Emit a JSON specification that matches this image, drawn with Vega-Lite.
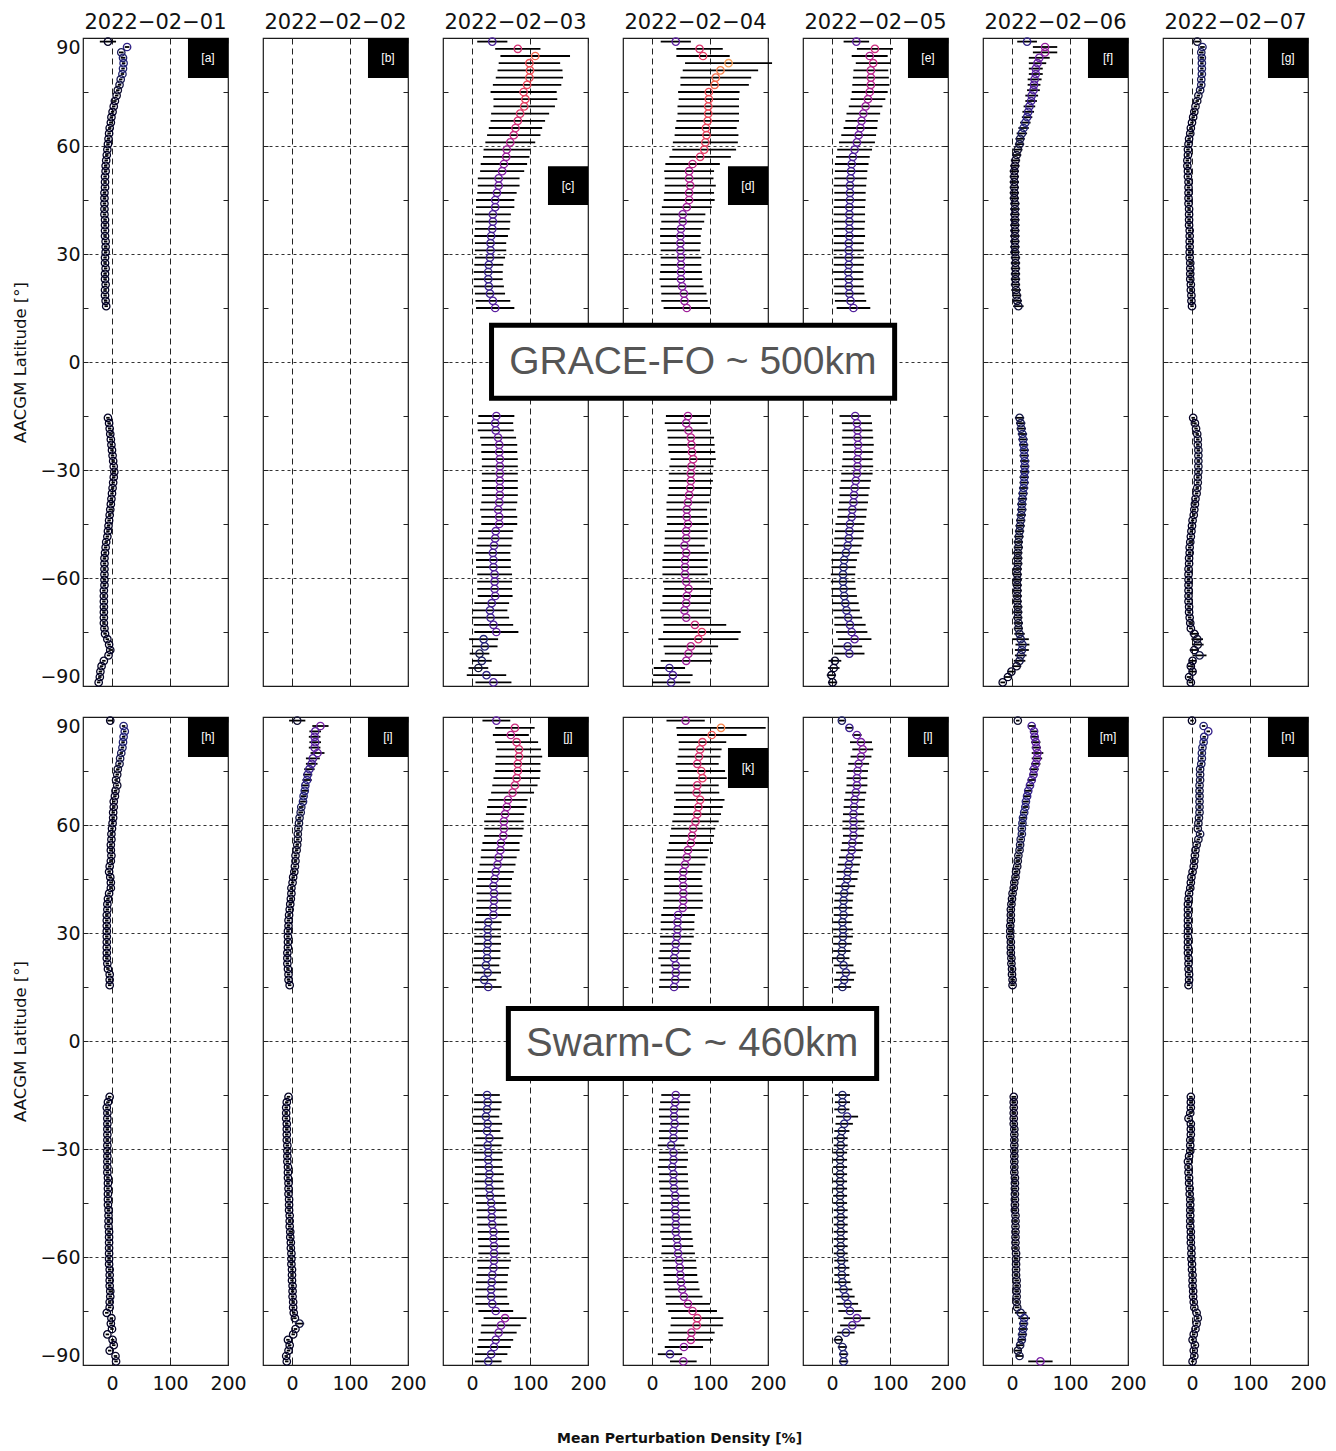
{
"$schema": "https://vega.github.io/schema/vega-lite/v6.json",
"background": "white",
"padding": {"left": 12, "top": 10, "right": 10, "bottom": 8},
"config": {
  "view": {"stroke": "#1a1a1a", "strokeWidth": 1.2},
  "axis": {"domain": false, "tickSize": -5, "tickColor": "#222", "tickWidth": 1, "labelFont": "DejaVu Sans", "labelFontSize": 19, "labelColor": "#111", "titleFont": "DejaVu Sans", "titleColor": "#111"},
  "title": {"font": "DejaVu Sans", "fontSize": 21, "fontWeight": "normal", "color": "#111", "offset": 2, "frame": "group"}
},
"datasets": {
"a": [{"y":89,"v":-7,"e":14},{"y":87.5,"v":26,"e":4},{"y":86,"v":16,"e":4},{"y":84.5,"v":19,"e":4},{"y":83,"v":20,"e":3},{"y":81.5,"v":19,"e":3},{"y":80,"v":18,"e":3},{"y":78.5,"v":15,"e":3},{"y":77,"v":13,"e":3},{"y":75.5,"v":10,"e":3},{"y":74,"v":8,"e":3},{"y":72.5,"v":5,"e":3},{"y":71,"v":3,"e":3},{"y":69.5,"v":1,"e":3},{"y":68,"v":-1,"e":3},{"y":66.5,"v":-2,"e":3},{"y":65,"v":-4,"e":3},{"y":63.5,"v":-5,"e":3},{"y":62,"v":-6,"e":3},{"y":60.5,"v":-7,"e":3},{"y":59,"v":-8,"e":3},{"y":57.5,"v":-9,"e":3},{"y":56,"v":-10,"e":3},{"y":54.5,"v":-11,"e":3},{"y":53,"v":-11,"e":3},{"y":51.5,"v":-12,"e":3},{"y":50,"v":-12,"e":3},{"y":48.5,"v":-12,"e":3},{"y":47,"v":-13,"e":3},{"y":45.5,"v":-13,"e":3},{"y":44,"v":-13,"e":3},{"y":42.5,"v":-13,"e":3},{"y":41,"v":-13,"e":3},{"y":39.5,"v":-12,"e":3},{"y":38,"v":-12,"e":3},{"y":36.5,"v":-12,"e":3},{"y":35,"v":-12,"e":3},{"y":33.5,"v":-11,"e":3},{"y":32,"v":-11,"e":3},{"y":30.5,"v":-11,"e":3},{"y":29,"v":-12,"e":3},{"y":27.5,"v":-12,"e":3},{"y":26,"v":-11,"e":3},{"y":24.5,"v":-12,"e":3},{"y":23,"v":-12,"e":3},{"y":21.5,"v":-11,"e":3},{"y":20,"v":-12,"e":3},{"y":18.5,"v":-12,"e":3},{"y":17,"v":-11,"e":3},{"y":15.5,"v":-10,"e":3},
{"y":-15.5,"v":-7,"e":3},{"y":-17,"v":-5,"e":3},{"y":-18.5,"v":-4,"e":3},{"y":-20,"v":-3,"e":3},{"y":-21.5,"v":-2,"e":3},{"y":-23,"v":-1,"e":3},{"y":-24.5,"v":0,"e":3},{"y":-26,"v":1,"e":3},{"y":-27.5,"v":2,"e":3},{"y":-29,"v":3,"e":3},{"y":-30.5,"v":4,"e":3},{"y":-32,"v":3,"e":3},{"y":-33.5,"v":2,"e":3},{"y":-35,"v":1,"e":3},{"y":-36.5,"v":0,"e":3},{"y":-38,"v":-1,"e":3},{"y":-39.5,"v":-2,"e":3},{"y":-41,"v":-3,"e":3},{"y":-42.5,"v":-4,"e":3},{"y":-44,"v":-5,"e":3},{"y":-45.5,"v":-6,"e":3},{"y":-47,"v":-7,"e":3},{"y":-48.5,"v":-8,"e":3},{"y":-50,"v":-10,"e":3},{"y":-51.5,"v":-11,"e":3},{"y":-53,"v":-12,"e":3},{"y":-54.5,"v":-13,"e":3},{"y":-56,"v":-13,"e":3},{"y":-57.5,"v":-13,"e":3},{"y":-59,"v":-13,"e":3},{"y":-60.5,"v":-13,"e":3},{"y":-62,"v":-13,"e":3},{"y":-63.5,"v":-14,"e":3},{"y":-65,"v":-14,"e":3},{"y":-66.5,"v":-14,"e":3},{"y":-68,"v":-14,"e":3},{"y":-69.5,"v":-14,"e":3},{"y":-71,"v":-14,"e":3},{"y":-72.5,"v":-14,"e":3},{"y":-74,"v":-13,"e":3},{"y":-75.5,"v":-12,"e":3},{"y":-77,"v":-8,"e":3},{"y":-78.5,"v":-5,"e":3},{"y":-80,"v":-3,"e":3},{"y":-81.5,"v":-6,"e":3},{"y":-83,"v":-14,"e":3},{"y":-84.5,"v":-18,"e":3},{"y":-86,"v":-20,"e":3},{"y":-87.5,"v":-21,"e":3},{"y":-89,"v":-23,"e":3}],
"b": [],
"c": [{"y":89,"v":35,"e":26},{"y":87,"v":79,"e":39},{"y":85,"v":109,"e":60},{"y":83,"v":99,"e":53},{"y":81,"v":100,"e":56},{"y":79,"v":99,"e":58},{"y":77,"v":95,"e":59},{"y":75,"v":89,"e":57},{"y":73,"v":92,"e":55},{"y":71,"v":90,"e":53},{"y":69,"v":83,"e":50},{"y":67,"v":79,"e":47},{"y":65,"v":75,"e":46},{"y":63,"v":72,"e":46},{"y":61,"v":66,"e":43},{"y":59,"v":60,"e":40},{"y":57,"v":59,"e":40},{"y":55,"v":55,"e":40},{"y":53,"v":52,"e":38},{"y":51,"v":46,"e":36},{"y":49,"v":46,"e":36},{"y":47,"v":43,"e":34},{"y":45,"v":40,"e":33},{"y":43,"v":40,"e":33},{"y":41,"v":36,"e":31},{"y":39,"v":36,"e":30},{"y":37,"v":35,"e":30},{"y":35,"v":33,"e":29},{"y":33,"v":32,"e":27},{"y":31,"v":32,"e":27},{"y":29,"v":31,"e":26},{"y":27,"v":29,"e":25},{"y":25,"v":28,"e":25},{"y":23,"v":28,"e":25},{"y":21,"v":29,"e":26},{"y":19,"v":31,"e":26},{"y":17,"v":36,"e":30},{"y":15,"v":40,"e":33},
{"y":-15,"v":42,"e":31},{"y":-17,"v":40,"e":31},{"y":-19,"v":41,"e":31},{"y":-21,"v":45,"e":31},{"y":-23,"v":47,"e":31},{"y":-25,"v":47,"e":31},{"y":-27,"v":48,"e":31},{"y":-29,"v":48,"e":31},{"y":-31,"v":48,"e":31},{"y":-33,"v":48,"e":31},{"y":-35,"v":48,"e":31},{"y":-37,"v":48,"e":31},{"y":-39,"v":47,"e":31},{"y":-41,"v":45,"e":31},{"y":-43,"v":47,"e":31},{"y":-45,"v":47,"e":31},{"y":-47,"v":41,"e":30},{"y":-49,"v":40,"e":30},{"y":-51,"v":38,"e":30},{"y":-53,"v":36,"e":30},{"y":-55,"v":37,"e":30},{"y":-57,"v":37,"e":30},{"y":-59,"v":39,"e":30},{"y":-61,"v":39,"e":30},{"y":-63,"v":39,"e":30},{"y":-65,"v":40,"e":30},{"y":-67,"v":34,"e":30},{"y":-69,"v":31,"e":30},{"y":-71,"v":32,"e":32},{"y":-73,"v":37,"e":34},{"y":-75,"v":42,"e":38},{"y":-77,"v":20,"e":25},{"y":-79,"v":22,"e":22},{"y":-81,"v":13,"e":17},{"y":-83,"v":17,"e":17},{"y":-85,"v":11,"e":17},{"y":-87,"v":25,"e":34},{"y":-89,"v":37,"e":31}],
"d": [{"y":89,"v":41,"e":26},{"y":87,"v":82,"e":40},{"y":85,"v":88,"e":46},{"y":83,"v":132,"e":75},{"y":81,"v":118,"e":65},{"y":79,"v":110,"e":61},{"y":77,"v":108,"e":59},{"y":75,"v":98,"e":53},{"y":73,"v":98,"e":52},{"y":71,"v":97,"e":53},{"y":69,"v":97,"e":53},{"y":67,"v":96,"e":54},{"y":65,"v":93,"e":53},{"y":63,"v":94,"e":55},{"y":61,"v":92,"e":56},{"y":59,"v":90,"e":55},{"y":57,"v":83,"e":53},{"y":55,"v":70,"e":47},{"y":53,"v":64,"e":43},{"y":51,"v":64,"e":42},{"y":49,"v":66,"e":44},{"y":47,"v":64,"e":43},{"y":45,"v":64,"e":44},{"y":43,"v":60,"e":43},{"y":41,"v":53,"e":39},{"y":39,"v":53,"e":37},{"y":37,"v":50,"e":36},{"y":35,"v":49,"e":35},{"y":33,"v":49,"e":35},{"y":31,"v":49,"e":34},{"y":29,"v":50,"e":35},{"y":27,"v":50,"e":35},{"y":25,"v":50,"e":36},{"y":23,"v":50,"e":37},{"y":21,"v":52,"e":37},{"y":19,"v":55,"e":39},{"y":17,"v":56,"e":40},{"y":15,"v":60,"e":40},
{"y":-15,"v":62,"e":38},{"y":-17,"v":59,"e":37},{"y":-19,"v":63,"e":37},{"y":-21,"v":67,"e":40},{"y":-23,"v":68,"e":40},{"y":-25,"v":69,"e":40},{"y":-27,"v":71,"e":39},{"y":-29,"v":68,"e":38},{"y":-31,"v":67,"e":38},{"y":-33,"v":67,"e":38},{"y":-35,"v":66,"e":37},{"y":-37,"v":64,"e":37},{"y":-39,"v":62,"e":37},{"y":-41,"v":60,"e":35},{"y":-43,"v":60,"e":35},{"y":-45,"v":62,"e":36},{"y":-47,"v":59,"e":37},{"y":-49,"v":59,"e":37},{"y":-51,"v":56,"e":35},{"y":-53,"v":59,"e":39},{"y":-55,"v":57,"e":39},{"y":-57,"v":57,"e":39},{"y":-59,"v":57,"e":39},{"y":-61,"v":59,"e":40},{"y":-63,"v":63,"e":42},{"y":-65,"v":60,"e":42},{"y":-67,"v":59,"e":41},{"y":-69,"v":56,"e":42},{"y":-71,"v":59,"e":43},{"y":-73,"v":74,"e":54},{"y":-75,"v":86,"e":67},{"y":-77,"v":80,"e":69},{"y":-79,"v":67,"e":47},{"y":-81,"v":63,"e":41},{"y":-83,"v":59,"e":44},{"y":-85,"v":30,"e":27},{"y":-87,"v":36,"e":34},{"y":-89,"v":33,"e":33}],
"e": [{"y":89,"v":42,"e":22},{"y":87,"v":74,"e":31},{"y":85,"v":65,"e":31},{"y":83,"v":71,"e":30},{"y":81,"v":67,"e":30},{"y":79,"v":67,"e":31},{"y":77,"v":67,"e":32},{"y":75,"v":65,"e":31},{"y":73,"v":62,"e":30},{"y":71,"v":58,"e":29},{"y":69,"v":54,"e":29},{"y":67,"v":51,"e":28},{"y":65,"v":49,"e":29},{"y":63,"v":46,"e":30},{"y":61,"v":43,"e":31},{"y":59,"v":39,"e":30},{"y":57,"v":36,"e":29},{"y":55,"v":34,"e":29},{"y":53,"v":33,"e":28},{"y":51,"v":32,"e":28},{"y":49,"v":31,"e":28},{"y":47,"v":31,"e":27},{"y":45,"v":31,"e":27},{"y":43,"v":30,"e":27},{"y":41,"v":30,"e":27},{"y":39,"v":30,"e":27},{"y":37,"v":30,"e":26},{"y":35,"v":30,"e":27},{"y":33,"v":29,"e":26},{"y":31,"v":29,"e":26},{"y":29,"v":29,"e":26},{"y":27,"v":29,"e":26},{"y":25,"v":28,"e":26},{"y":23,"v":29,"e":25},{"y":21,"v":29,"e":26},{"y":19,"v":30,"e":26},{"y":17,"v":32,"e":27},{"y":15,"v":37,"e":29},
{"y":-15,"v":40,"e":27},{"y":-17,"v":43,"e":26},{"y":-19,"v":44,"e":26},{"y":-21,"v":44,"e":27},{"y":-23,"v":45,"e":27},{"y":-25,"v":45,"e":26},{"y":-27,"v":44,"e":26},{"y":-29,"v":44,"e":27},{"y":-31,"v":43,"e":27},{"y":-33,"v":41,"e":26},{"y":-35,"v":39,"e":26},{"y":-37,"v":38,"e":25},{"y":-39,"v":37,"e":25},{"y":-41,"v":35,"e":25},{"y":-43,"v":34,"e":25},{"y":-45,"v":31,"e":25},{"y":-47,"v":30,"e":25},{"y":-49,"v":29,"e":25},{"y":-51,"v":27,"e":24},{"y":-53,"v":24,"e":23},{"y":-55,"v":21,"e":22},{"y":-57,"v":20,"e":21},{"y":-59,"v":19,"e":21},{"y":-61,"v":19,"e":21},{"y":-63,"v":20,"e":21},{"y":-65,"v":21,"e":22},{"y":-67,"v":23,"e":23},{"y":-69,"v":25,"e":23},{"y":-71,"v":28,"e":24},{"y":-73,"v":31,"e":27},{"y":-75,"v":34,"e":27},{"y":-77,"v":39,"e":29},{"y":-79,"v":27,"e":25},{"y":-81,"v":30,"e":26},{"y":-83,"v":5,"e":11},{"y":-85,"v":3,"e":10},{"y":-87,"v":-1,"e":8},{"y":-89,"v":1,"e":8}],
"f": [{"y":89,"v":26,"e":17},{"y":87.5,"v":57,"e":21},{"y":86,"v":57,"e":21},{"y":84.5,"v":47,"e":18},{"y":83,"v":44,"e":15},{"y":81.5,"v":41,"e":12},{"y":80,"v":41,"e":12},{"y":78.5,"v":39,"e":12},{"y":77,"v":38,"e":11},{"y":75.5,"v":37,"e":11},{"y":74,"v":34,"e":11},{"y":72.5,"v":33,"e":10},{"y":71,"v":30,"e":10},{"y":69.5,"v":28,"e":10},{"y":68,"v":26,"e":9},{"y":66.5,"v":23,"e":9},{"y":65,"v":20,"e":9},{"y":63.5,"v":17,"e":9},{"y":62,"v":14,"e":8},{"y":60.5,"v":13,"e":8},{"y":59,"v":10,"e":8},{"y":57.5,"v":8,"e":8},{"y":56,"v":6,"e":8},{"y":54.5,"v":5,"e":8},{"y":53,"v":4,"e":8},{"y":51.5,"v":4,"e":8},{"y":50,"v":4,"e":8},{"y":48.5,"v":4,"e":8},{"y":47,"v":4,"e":8},{"y":45.5,"v":4,"e":8},{"y":44,"v":5,"e":8},{"y":42.5,"v":5,"e":8},{"y":41,"v":5,"e":8},{"y":39.5,"v":5,"e":8},{"y":38,"v":5,"e":8},{"y":36.5,"v":5,"e":8},{"y":35,"v":5,"e":8},{"y":33.5,"v":5,"e":8},{"y":32,"v":5,"e":8},{"y":30.5,"v":5,"e":8},{"y":29,"v":6,"e":8},{"y":27.5,"v":6,"e":8},{"y":26,"v":6,"e":8},{"y":24.5,"v":6,"e":8},{"y":23,"v":6,"e":8},{"y":21.5,"v":6,"e":8},{"y":20,"v":7,"e":8},{"y":18.5,"v":8,"e":8},{"y":17,"v":9,"e":8},{"y":15.5,"v":11,"e":9},
{"y":-15.5,"v":13,"e":8},{"y":-17,"v":15,"e":8},{"y":-18.5,"v":16,"e":8},{"y":-20,"v":18,"e":8},{"y":-21.5,"v":19,"e":8},{"y":-23,"v":20,"e":8},{"y":-24.5,"v":21,"e":8},{"y":-26,"v":21,"e":8},{"y":-27.5,"v":22,"e":8},{"y":-29,"v":22,"e":8},{"y":-30.5,"v":22,"e":8},{"y":-32,"v":21,"e":8},{"y":-33.5,"v":21,"e":8},{"y":-35,"v":20,"e":8},{"y":-36.5,"v":19,"e":8},{"y":-38,"v":18,"e":8},{"y":-39.5,"v":17,"e":8},{"y":-41,"v":17,"e":8},{"y":-42.5,"v":16,"e":8},{"y":-44,"v":15,"e":8},{"y":-45.5,"v":14,"e":8},{"y":-47,"v":13,"e":8},{"y":-48.5,"v":12,"e":8},{"y":-50,"v":11,"e":8},{"y":-51.5,"v":11,"e":8},{"y":-53,"v":10,"e":8},{"y":-54.5,"v":10,"e":8},{"y":-56,"v":10,"e":8},{"y":-57.5,"v":9,"e":8},{"y":-59,"v":9,"e":8},{"y":-60.5,"v":9,"e":8},{"y":-62,"v":9,"e":8},{"y":-63.5,"v":9,"e":8},{"y":-65,"v":9,"e":8},{"y":-66.5,"v":9,"e":8},{"y":-68,"v":10,"e":8},{"y":-69.5,"v":10,"e":8},{"y":-71,"v":10,"e":8},{"y":-72.5,"v":11,"e":8},{"y":-74,"v":11,"e":8},{"y":-75.5,"v":13,"e":9},{"y":-77,"v":15,"e":14},{"y":-78.5,"v":18,"e":12},{"y":-80,"v":17,"e":12},{"y":-81.5,"v":15,"e":10},{"y":-83,"v":13,"e":10},{"y":-84.5,"v":8,"e":8},{"y":-86,"v":-1,"e":6},{"y":-87.5,"v":-7,"e":5},{"y":-89,"v":-16,"e":4}],
"g": [{"y":89,"v":9,"e":5},{"y":87.5,"v":18,"e":4},{"y":86,"v":16,"e":4},{"y":84.5,"v":17,"e":4},{"y":83,"v":17,"e":3},{"y":81.5,"v":17,"e":3},{"y":80,"v":17,"e":3},{"y":78.5,"v":16,"e":3},{"y":77,"v":16,"e":3},{"y":75.5,"v":14,"e":3},{"y":74,"v":11,"e":3},{"y":72.5,"v":9,"e":3},{"y":71,"v":6,"e":3},{"y":69.5,"v":4,"e":3},{"y":68,"v":2,"e":3},{"y":66.5,"v":0,"e":3},{"y":65,"v":-2,"e":3},{"y":63.5,"v":-3,"e":3},{"y":62,"v":-5,"e":3},{"y":60.5,"v":-6,"e":3},{"y":59,"v":-7,"e":3},{"y":57.5,"v":-7,"e":3},{"y":56,"v":-8,"e":3},{"y":54.5,"v":-8,"e":3},{"y":53,"v":-7,"e":3},{"y":51.5,"v":-7,"e":3},{"y":50,"v":-6,"e":3},{"y":48.5,"v":-6,"e":3},{"y":47,"v":-6,"e":3},{"y":45.5,"v":-6,"e":3},{"y":44,"v":-6,"e":3},{"y":42.5,"v":-5,"e":3},{"y":41,"v":-5,"e":3},{"y":39.5,"v":-5,"e":3},{"y":38,"v":-5,"e":3},{"y":36.5,"v":-4,"e":3},{"y":35,"v":-4,"e":3},{"y":33.5,"v":-4,"e":3},{"y":32,"v":-4,"e":3},{"y":30.5,"v":-4,"e":3},{"y":29,"v":-4,"e":3},{"y":27.5,"v":-3,"e":3},{"y":26,"v":-3,"e":3},{"y":24.5,"v":-3,"e":3},{"y":23,"v":-3,"e":3},{"y":21.5,"v":-2,"e":3},{"y":20,"v":-2,"e":3},{"y":18.5,"v":-1,"e":3},{"y":17,"v":-1,"e":3},{"y":15.5,"v":0,"e":3},
{"y":-15.5,"v":2,"e":3},{"y":-17,"v":5,"e":3},{"y":-18.5,"v":7,"e":3},{"y":-20,"v":9,"e":3},{"y":-21.5,"v":10,"e":3},{"y":-23,"v":10,"e":3},{"y":-24.5,"v":11,"e":3},{"y":-26,"v":11,"e":3},{"y":-27.5,"v":11,"e":3},{"y":-29,"v":11,"e":3},{"y":-30.5,"v":11,"e":3},{"y":-32,"v":10,"e":3},{"y":-33.5,"v":10,"e":3},{"y":-35,"v":9,"e":3},{"y":-36.5,"v":8,"e":3},{"y":-38,"v":6,"e":3},{"y":-39.5,"v":5,"e":3},{"y":-41,"v":4,"e":3},{"y":-42.5,"v":3,"e":3},{"y":-44,"v":1,"e":3},{"y":-45.5,"v":0,"e":3},{"y":-47,"v":-1,"e":3},{"y":-48.5,"v":-2,"e":3},{"y":-50,"v":-3,"e":3},{"y":-51.5,"v":-4,"e":3},{"y":-53,"v":-4,"e":3},{"y":-54.5,"v":-5,"e":3},{"y":-56,"v":-5,"e":3},{"y":-57.5,"v":-6,"e":3},{"y":-59,"v":-6,"e":3},{"y":-60.5,"v":-6,"e":3},{"y":-62,"v":-6,"e":3},{"y":-63.5,"v":-6,"e":3},{"y":-65,"v":-6,"e":3},{"y":-66.5,"v":-6,"e":3},{"y":-68,"v":-5,"e":3},{"y":-69.5,"v":-5,"e":3},{"y":-71,"v":-4,"e":3},{"y":-72.5,"v":-3,"e":3},{"y":-74,"v":-2,"e":3},{"y":-75.5,"v":4,"e":8},{"y":-77,"v":9,"e":10},{"y":-78.5,"v":10,"e":10},{"y":-80,"v":4,"e":8},{"y":-81.5,"v":13,"e":12},{"y":-83,"v":1,"e":6},{"y":-84.5,"v":-2,"e":5},{"y":-86,"v":1,"e":6},{"y":-87.5,"v":-5,"e":4},{"y":-89,"v":-2,"e":4}],
"h": [{"y":89,"v":-3,"e":5},{"y":87.5,"v":20,"e":3},{"y":86,"v":22,"e":3},{"y":84.5,"v":20,"e":3},{"y":83,"v":19,"e":3},{"y":81.5,"v":18,"e":3},{"y":80,"v":16,"e":3},{"y":78.5,"v":14,"e":3},{"y":77,"v":13,"e":3},{"y":75.5,"v":10,"e":3},{"y":74,"v":9,"e":3},{"y":72.5,"v":7,"e":3},{"y":71,"v":9,"e":3},{"y":69.5,"v":6,"e":3},{"y":68,"v":5,"e":3},{"y":66.5,"v":3,"e":3},{"y":65,"v":3,"e":3},{"y":63.5,"v":2,"e":3},{"y":62,"v":2,"e":3},{"y":60.5,"v":1,"e":3},{"y":59,"v":0,"e":3},{"y":57.5,"v":-1,"e":3},{"y":56,"v":-1,"e":3},{"y":54.5,"v":-2,"e":3},{"y":53,"v":-2,"e":3},{"y":51.5,"v":-1,"e":3},{"y":50,"v":-2,"e":3},{"y":48.5,"v":-4,"e":3},{"y":47,"v":-5,"e":3},{"y":45.5,"v":-3,"e":3},{"y":44,"v":-2,"e":3},{"y":42.5,"v":-2,"e":3},{"y":41,"v":-5,"e":3},{"y":39.5,"v":-7,"e":3},{"y":38,"v":-8,"e":3},{"y":36.5,"v":-8,"e":3},{"y":35,"v":-9,"e":3},{"y":33.5,"v":-9,"e":3},{"y":32,"v":-9,"e":3},{"y":30.5,"v":-9,"e":3},{"y":29,"v":-9,"e":3},{"y":27.5,"v":-9,"e":3},{"y":26,"v":-9,"e":3},{"y":24.5,"v":-9,"e":3},{"y":23,"v":-9,"e":3},{"y":21.5,"v":-8,"e":3},{"y":20,"v":-7,"e":3},{"y":18.5,"v":-4,"e":3},{"y":17,"v":-4,"e":3},{"y":15.5,"v":-4,"e":3},
{"y":-15.5,"v":-4,"e":3},{"y":-17,"v":-7,"e":3},{"y":-18.5,"v":-9,"e":3},{"y":-20,"v":-8,"e":3},{"y":-21.5,"v":-8,"e":3},{"y":-23,"v":-8,"e":3},{"y":-24.5,"v":-8,"e":3},{"y":-26,"v":-8,"e":3},{"y":-27.5,"v":-8,"e":3},{"y":-29,"v":-8,"e":3},{"y":-30.5,"v":-8,"e":3},{"y":-32,"v":-8,"e":3},{"y":-33.5,"v":-8,"e":3},{"y":-35,"v":-8,"e":3},{"y":-36.5,"v":-8,"e":3},{"y":-38,"v":-7,"e":3},{"y":-39.5,"v":-7,"e":3},{"y":-41,"v":-7,"e":3},{"y":-42.5,"v":-7,"e":3},{"y":-44,"v":-7,"e":3},{"y":-45.5,"v":-7,"e":3},{"y":-47,"v":-6,"e":3},{"y":-48.5,"v":-6,"e":3},{"y":-50,"v":-6,"e":3},{"y":-51.5,"v":-6,"e":3},{"y":-53,"v":-5,"e":3},{"y":-54.5,"v":-5,"e":3},{"y":-56,"v":-5,"e":3},{"y":-57.5,"v":-5,"e":3},{"y":-59,"v":-5,"e":3},{"y":-60.5,"v":-5,"e":3},{"y":-62,"v":-5,"e":3},{"y":-63.5,"v":-4,"e":3},{"y":-65,"v":-4,"e":3},{"y":-66.5,"v":-4,"e":3},{"y":-68,"v":-4,"e":3},{"y":-69.5,"v":-3,"e":3},{"y":-71,"v":-3,"e":3},{"y":-72.5,"v":-4,"e":3},{"y":-74,"v":-4,"e":3},{"y":-75.5,"v":-9,"e":3},{"y":-77,"v":-1,"e":3},{"y":-78.5,"v":-2,"e":3},{"y":-80,"v":0,"e":3},{"y":-81.5,"v":-8,"e":3},{"y":-83,"v":1,"e":3},{"y":-84.5,"v":3,"e":3},{"y":-86,"v":-4,"e":3},{"y":-87.5,"v":6,"e":3},{"y":-89,"v":7,"e":3}],
"i": [{"y":89,"v":9,"e":14},{"y":87.5,"v":49,"e":14},{"y":86,"v":40,"e":10},{"y":84.5,"v":39,"e":10},{"y":83,"v":40,"e":10},{"y":81.5,"v":39,"e":10},{"y":80,"v":44,"e":12},{"y":78.5,"v":36,"e":12},{"y":77,"v":34,"e":10},{"y":75.5,"v":30,"e":9},{"y":74,"v":27,"e":8},{"y":72.5,"v":26,"e":8},{"y":71,"v":23,"e":6},{"y":69.5,"v":22,"e":6},{"y":68,"v":20,"e":5},{"y":66.5,"v":19,"e":5},{"y":65,"v":16,"e":4},{"y":63.5,"v":15,"e":4},{"y":62,"v":13,"e":3},{"y":60.5,"v":12,"e":3},{"y":59,"v":11,"e":3},{"y":57.5,"v":10,"e":3},{"y":56,"v":10,"e":3},{"y":54.5,"v":9,"e":3},{"y":53,"v":8,"e":3},{"y":51.5,"v":6,"e":3},{"y":50,"v":6,"e":3},{"y":48.5,"v":5,"e":3},{"y":47,"v":4,"e":3},{"y":45.5,"v":2,"e":3},{"y":44,"v":1,"e":3},{"y":42.5,"v":-1,"e":3},{"y":41,"v":-1,"e":3},{"y":39.5,"v":-2,"e":3},{"y":38,"v":-3,"e":3},{"y":36.5,"v":-4,"e":3},{"y":35,"v":-5,"e":3},{"y":33.5,"v":-6,"e":3},{"y":32,"v":-6,"e":3},{"y":30.5,"v":-7,"e":3},{"y":29,"v":-7,"e":3},{"y":27.5,"v":-7,"e":3},{"y":26,"v":-7,"e":3},{"y":24.5,"v":-8,"e":3},{"y":23,"v":-8,"e":3},{"y":21.5,"v":-8,"e":3},{"y":20,"v":-7,"e":3},{"y":18.5,"v":-6,"e":3},{"y":17,"v":-6,"e":3},{"y":15.5,"v":-4,"e":3},
{"y":-15.5,"v":-6,"e":3},{"y":-17,"v":-9,"e":3},{"y":-18.5,"v":-10,"e":3},{"y":-20,"v":-10,"e":3},{"y":-21.5,"v":-10,"e":3},{"y":-23,"v":-9,"e":3},{"y":-24.5,"v":-9,"e":3},{"y":-26,"v":-9,"e":3},{"y":-27.5,"v":-9,"e":3},{"y":-29,"v":-8,"e":3},{"y":-30.5,"v":-8,"e":3},{"y":-32,"v":-8,"e":3},{"y":-33.5,"v":-8,"e":3},{"y":-35,"v":-7,"e":3},{"y":-36.5,"v":-7,"e":3},{"y":-38,"v":-7,"e":3},{"y":-39.5,"v":-6,"e":3},{"y":-41,"v":-6,"e":3},{"y":-42.5,"v":-6,"e":3},{"y":-44,"v":-5,"e":3},{"y":-45.5,"v":-5,"e":3},{"y":-47,"v":-5,"e":3},{"y":-48.5,"v":-4,"e":3},{"y":-50,"v":-4,"e":3},{"y":-51.5,"v":-4,"e":3},{"y":-53,"v":-3,"e":3},{"y":-54.5,"v":-3,"e":3},{"y":-56,"v":-2,"e":3},{"y":-57.5,"v":-2,"e":3},{"y":-59,"v":-1,"e":3},{"y":-60.5,"v":-1,"e":3},{"y":-62,"v":-1,"e":3},{"y":-63.5,"v":0,"e":3},{"y":-65,"v":0,"e":3},{"y":-66.5,"v":0,"e":3},{"y":-68,"v":1,"e":3},{"y":-69.5,"v":1,"e":3},{"y":-71,"v":1,"e":3},{"y":-72.5,"v":2,"e":3},{"y":-74,"v":2,"e":3},{"y":-75.5,"v":3,"e":3},{"y":-77,"v":5,"e":3},{"y":-78.5,"v":13,"e":8},{"y":-80,"v":6,"e":3},{"y":-81.5,"v":2,"e":3},{"y":-83,"v":-7,"e":3},{"y":-84.5,"v":-4,"e":3},{"y":-86,"v":-6,"e":3},{"y":-87.5,"v":-10,"e":3},{"y":-89,"v":-9,"e":3}],
"j": [{"y":89,"v":42,"e":24},{"y":87,"v":74,"e":34},{"y":85,"v":67,"e":31},{"y":83,"v":77,"e":37},{"y":81,"v":81,"e":38},{"y":79,"v":81,"e":40},{"y":77,"v":79,"e":39},{"y":75,"v":79,"e":39},{"y":73,"v":77,"e":40},{"y":71,"v":74,"e":39},{"y":69,"v":70,"e":37},{"y":67,"v":62,"e":34},{"y":65,"v":60,"e":34},{"y":63,"v":57,"e":33},{"y":61,"v":55,"e":34},{"y":59,"v":55,"e":34},{"y":57,"v":54,"e":33},{"y":55,"v":50,"e":32},{"y":53,"v":49,"e":33},{"y":51,"v":46,"e":31},{"y":49,"v":44,"e":31},{"y":47,"v":41,"e":31},{"y":45,"v":39,"e":30},{"y":43,"v":37,"e":30},{"y":41,"v":38,"e":30},{"y":39,"v":38,"e":30},{"y":37,"v":37,"e":30},{"y":35,"v":37,"e":30},{"y":33,"v":28,"e":23},{"y":31,"v":27,"e":23},{"y":29,"v":27,"e":23},{"y":27,"v":27,"e":23},{"y":25,"v":26,"e":23},{"y":23,"v":26,"e":23},{"y":21,"v":24,"e":23},{"y":19,"v":27,"e":23},{"y":17,"v":21,"e":21},{"y":15,"v":28,"e":23},
{"y":-15,"v":26,"e":22},{"y":-17,"v":27,"e":24},{"y":-19,"v":26,"e":23},{"y":-21,"v":24,"e":23},{"y":-23,"v":27,"e":25},{"y":-25,"v":26,"e":23},{"y":-27,"v":30,"e":24},{"y":-29,"v":27,"e":24},{"y":-31,"v":28,"e":25},{"y":-33,"v":28,"e":24},{"y":-35,"v":29,"e":24},{"y":-37,"v":30,"e":25},{"y":-39,"v":29,"e":25},{"y":-41,"v":30,"e":26},{"y":-43,"v":31,"e":26},{"y":-45,"v":33,"e":26},{"y":-47,"v":34,"e":26},{"y":-49,"v":34,"e":26},{"y":-51,"v":35,"e":26},{"y":-53,"v":37,"e":27},{"y":-55,"v":37,"e":27},{"y":-57,"v":38,"e":27},{"y":-59,"v":38,"e":27},{"y":-61,"v":38,"e":29},{"y":-63,"v":37,"e":27},{"y":-65,"v":35,"e":27},{"y":-67,"v":34,"e":27},{"y":-69,"v":33,"e":27},{"y":-71,"v":33,"e":28},{"y":-73,"v":35,"e":29},{"y":-75,"v":41,"e":30},{"y":-77,"v":57,"e":37},{"y":-79,"v":50,"e":34},{"y":-81,"v":46,"e":31},{"y":-83,"v":41,"e":30},{"y":-85,"v":38,"e":29},{"y":-87,"v":33,"e":28},{"y":-89,"v":28,"e":23}],
"k": [{"y":89,"v":58,"e":33},{"y":87,"v":119,"e":77},{"y":85,"v":103,"e":60},{"y":83,"v":87,"e":41},{"y":81,"v":83,"e":37},{"y":79,"v":81,"e":37},{"y":77,"v":78,"e":37},{"y":75,"v":85,"e":41},{"y":73,"v":87,"e":42},{"y":71,"v":78,"e":37},{"y":69,"v":77,"e":39},{"y":67,"v":83,"e":42},{"y":65,"v":80,"e":42},{"y":63,"v":78,"e":41},{"y":61,"v":75,"e":40},{"y":59,"v":71,"e":38},{"y":57,"v":69,"e":38},{"y":55,"v":67,"e":38},{"y":53,"v":62,"e":36},{"y":51,"v":60,"e":36},{"y":49,"v":57,"e":35},{"y":47,"v":54,"e":33},{"y":45,"v":53,"e":32},{"y":43,"v":54,"e":33},{"y":41,"v":54,"e":33},{"y":39,"v":54,"e":34},{"y":37,"v":53,"e":34},{"y":35,"v":45,"e":29},{"y":33,"v":44,"e":29},{"y":31,"v":44,"e":29},{"y":29,"v":43,"e":29},{"y":27,"v":41,"e":27},{"y":25,"v":40,"e":27},{"y":23,"v":38,"e":27},{"y":21,"v":41,"e":26},{"y":19,"v":41,"e":26},{"y":17,"v":40,"e":27},{"y":15,"v":38,"e":26},
{"y":-15,"v":41,"e":25},{"y":-17,"v":40,"e":26},{"y":-19,"v":38,"e":26},{"y":-21,"v":38,"e":26},{"y":-23,"v":39,"e":25},{"y":-25,"v":37,"e":25},{"y":-27,"v":37,"e":25},{"y":-29,"v":33,"e":23},{"y":-31,"v":37,"e":25},{"y":-33,"v":37,"e":25},{"y":-35,"v":35,"e":25},{"y":-37,"v":37,"e":25},{"y":-39,"v":37,"e":25},{"y":-41,"v":38,"e":25},{"y":-43,"v":40,"e":25},{"y":-45,"v":40,"e":25},{"y":-47,"v":40,"e":26},{"y":-49,"v":41,"e":26},{"y":-51,"v":41,"e":26},{"y":-53,"v":41,"e":27},{"y":-55,"v":43,"e":27},{"y":-57,"v":44,"e":27},{"y":-59,"v":45,"e":29},{"y":-61,"v":47,"e":29},{"y":-63,"v":48,"e":29},{"y":-65,"v":49,"e":29},{"y":-67,"v":50,"e":30},{"y":-69,"v":52,"e":30},{"y":-71,"v":55,"e":32},{"y":-73,"v":62,"e":38},{"y":-75,"v":70,"e":42},{"y":-77,"v":78,"e":45},{"y":-79,"v":77,"e":45},{"y":-81,"v":68,"e":40},{"y":-83,"v":67,"e":38},{"y":-85,"v":55,"e":33},{"y":-87,"v":31,"e":21},{"y":-89,"v":54,"e":23}],
"l": [{"y":89,"v":17,"e":5},{"y":87,"v":30,"e":6},{"y":85,"v":43,"e":8},{"y":83,"v":50,"e":19},{"y":81,"v":53,"e":18},{"y":79,"v":50,"e":18},{"y":77,"v":46,"e":18},{"y":75,"v":44,"e":18},{"y":73,"v":43,"e":18},{"y":71,"v":43,"e":18},{"y":69,"v":41,"e":18},{"y":67,"v":39,"e":18},{"y":65,"v":38,"e":18},{"y":63,"v":37,"e":18},{"y":61,"v":37,"e":19},{"y":59,"v":37,"e":19},{"y":57,"v":37,"e":18},{"y":55,"v":35,"e":18},{"y":53,"v":34,"e":19},{"y":51,"v":31,"e":19},{"y":49,"v":29,"e":19},{"y":47,"v":27,"e":19},{"y":45,"v":26,"e":18},{"y":43,"v":23,"e":17},{"y":41,"v":21,"e":16},{"y":39,"v":20,"e":16},{"y":37,"v":19,"e":16},{"y":35,"v":20,"e":17},{"y":33,"v":18,"e":16},{"y":31,"v":19,"e":17},{"y":29,"v":19,"e":17},{"y":27,"v":18,"e":16},{"y":25,"v":17,"e":15},{"y":23,"v":15,"e":15},{"y":21,"v":20,"e":17},{"y":19,"v":24,"e":17},{"y":17,"v":21,"e":17},{"y":15,"v":18,"e":15},
{"y":-15,"v":18,"e":13},{"y":-17,"v":18,"e":13},{"y":-19,"v":17,"e":13},{"y":-21,"v":26,"e":19},{"y":-23,"v":21,"e":15},{"y":-25,"v":17,"e":13},{"y":-27,"v":15,"e":12},{"y":-29,"v":15,"e":12},{"y":-31,"v":14,"e":12},{"y":-33,"v":14,"e":12},{"y":-35,"v":14,"e":12},{"y":-37,"v":14,"e":12},{"y":-39,"v":14,"e":12},{"y":-41,"v":14,"e":12},{"y":-43,"v":14,"e":12},{"y":-45,"v":14,"e":12},{"y":-47,"v":15,"e":12},{"y":-49,"v":15,"e":12},{"y":-51,"v":15,"e":12},{"y":-53,"v":15,"e":12},{"y":-55,"v":15,"e":12},{"y":-57,"v":15,"e":12},{"y":-59,"v":15,"e":12},{"y":-61,"v":16,"e":12},{"y":-63,"v":17,"e":13},{"y":-65,"v":17,"e":13},{"y":-67,"v":18,"e":14},{"y":-69,"v":20,"e":15},{"y":-71,"v":23,"e":16},{"y":-73,"v":27,"e":18},{"y":-75,"v":31,"e":20},{"y":-77,"v":43,"e":23},{"y":-79,"v":35,"e":21},{"y":-81,"v":24,"e":15},{"y":-83,"v":11,"e":8},{"y":-85,"v":18,"e":8},{"y":-87,"v":20,"e":8},{"y":-89,"v":20,"e":8}],
"m": [{"y":89,"v":10,"e":3},{"y":87.5,"v":34,"e":6},{"y":86,"v":38,"e":7},{"y":84.5,"v":39,"e":7},{"y":83,"v":41,"e":8},{"y":81.5,"v":42,"e":8},{"y":80,"v":44,"e":10},{"y":78.5,"v":43,"e":9},{"y":77,"v":41,"e":8},{"y":75.5,"v":38,"e":8},{"y":74,"v":37,"e":7},{"y":72.5,"v":34,"e":7},{"y":71,"v":31,"e":6},{"y":69.5,"v":28,"e":6},{"y":68,"v":26,"e":6},{"y":66.5,"v":24,"e":5},{"y":65,"v":23,"e":5},{"y":63.5,"v":21,"e":5},{"y":62,"v":19,"e":5},{"y":60.5,"v":18,"e":5},{"y":59,"v":17,"e":4},{"y":57.5,"v":17,"e":4},{"y":56,"v":15,"e":4},{"y":54.5,"v":14,"e":4},{"y":53,"v":13,"e":4},{"y":51.5,"v":11,"e":4},{"y":50,"v":10,"e":4},{"y":48.5,"v":9,"e":4},{"y":47,"v":7,"e":4},{"y":45.5,"v":6,"e":4},{"y":44,"v":4,"e":4},{"y":42.5,"v":3,"e":4},{"y":41,"v":1,"e":4},{"y":39.5,"v":0,"e":4},{"y":38,"v":-1,"e":4},{"y":36.5,"v":-2,"e":4},{"y":35,"v":-2,"e":4},{"y":33.5,"v":-2,"e":4},{"y":32,"v":-3,"e":4},{"y":30.5,"v":-3,"e":4},{"y":29,"v":-3,"e":4},{"y":27.5,"v":-2,"e":4},{"y":26,"v":-2,"e":4},{"y":24.5,"v":-2,"e":4},{"y":23,"v":-1,"e":4},{"y":21.5,"v":-1,"e":4},{"y":20,"v":0,"e":4},{"y":18.5,"v":0,"e":4},{"y":17,"v":1,"e":4},{"y":15.5,"v":1,"e":4},
{"y":-15.5,"v":3,"e":4},{"y":-17,"v":3,"e":4},{"y":-18.5,"v":3,"e":4},{"y":-20,"v":3,"e":4},{"y":-21.5,"v":3,"e":4},{"y":-23,"v":3,"e":4},{"y":-24.5,"v":4,"e":4},{"y":-26,"v":4,"e":4},{"y":-27.5,"v":4,"e":4},{"y":-29,"v":4,"e":4},{"y":-30.5,"v":4,"e":4},{"y":-32,"v":4,"e":4},{"y":-33.5,"v":4,"e":4},{"y":-35,"v":4,"e":4},{"y":-36.5,"v":4,"e":4},{"y":-38,"v":5,"e":4},{"y":-39.5,"v":5,"e":4},{"y":-41,"v":5,"e":4},{"y":-42.5,"v":5,"e":4},{"y":-44,"v":5,"e":4},{"y":-45.5,"v":5,"e":4},{"y":-47,"v":5,"e":4},{"y":-48.5,"v":6,"e":4},{"y":-50,"v":6,"e":4},{"y":-51.5,"v":6,"e":4},{"y":-53,"v":6,"e":4},{"y":-54.5,"v":6,"e":4},{"y":-56,"v":6,"e":4},{"y":-57.5,"v":6,"e":4},{"y":-59,"v":7,"e":4},{"y":-60.5,"v":7,"e":4},{"y":-62,"v":7,"e":4},{"y":-63.5,"v":7,"e":4},{"y":-65,"v":7,"e":4},{"y":-66.5,"v":8,"e":4},{"y":-68,"v":8,"e":4},{"y":-69.5,"v":8,"e":4},{"y":-71,"v":8,"e":4},{"y":-72.5,"v":8,"e":4},{"y":-74,"v":9,"e":4},{"y":-75.5,"v":15,"e":10},{"y":-77,"v":21,"e":10},{"y":-78.5,"v":20,"e":8},{"y":-80,"v":19,"e":8},{"y":-81.5,"v":18,"e":8},{"y":-83,"v":17,"e":7},{"y":-84.5,"v":14,"e":6},{"y":-86,"v":10,"e":6},{"y":-87.5,"v":13,"e":6},{"y":-89,"v":49,"e":21}],
"n": [{"y":89,"v":0,"e":3},{"y":87.5,"v":20,"e":3},{"y":86,"v":28,"e":3},{"y":84.5,"v":21,"e":3},{"y":83,"v":20,"e":3},{"y":81.5,"v":18,"e":3},{"y":80,"v":17,"e":3},{"y":78.5,"v":17,"e":3},{"y":77,"v":16,"e":3},{"y":75.5,"v":14,"e":3},{"y":74,"v":14,"e":3},{"y":72.5,"v":14,"e":3},{"y":71,"v":13,"e":3},{"y":69.5,"v":13,"e":3},{"y":68,"v":13,"e":3},{"y":66.5,"v":13,"e":3},{"y":65,"v":13,"e":3},{"y":63.5,"v":13,"e":3},{"y":62,"v":12,"e":3},{"y":60.5,"v":11,"e":3},{"y":59,"v":10,"e":3},{"y":57.5,"v":14,"e":3},{"y":56,"v":11,"e":3},{"y":54.5,"v":8,"e":3},{"y":53,"v":6,"e":3},{"y":51.5,"v":5,"e":3},{"y":50,"v":4,"e":3},{"y":48.5,"v":3,"e":3},{"y":47,"v":1,"e":3},{"y":45.5,"v":-1,"e":3},{"y":44,"v":-2,"e":3},{"y":42.5,"v":-3,"e":3},{"y":41,"v":-5,"e":3},{"y":39.5,"v":-6,"e":3},{"y":38,"v":-7,"e":3},{"y":36.5,"v":-7,"e":3},{"y":35,"v":-7,"e":3},{"y":33.5,"v":-7,"e":3},{"y":32,"v":-7,"e":3},{"y":30.5,"v":-7,"e":3},{"y":29,"v":-7,"e":3},{"y":27.5,"v":-7,"e":3},{"y":26,"v":-7,"e":3},{"y":24.5,"v":-7,"e":3},{"y":23,"v":-6,"e":3},{"y":21.5,"v":-6,"e":3},{"y":20,"v":-6,"e":3},{"y":18.5,"v":-5,"e":3},{"y":17,"v":-5,"e":3},{"y":15.5,"v":-6,"e":3},
{"y":-15.5,"v":-2,"e":3},{"y":-17,"v":-2,"e":3},{"y":-18.5,"v":-2,"e":3},{"y":-20,"v":-3,"e":3},{"y":-21.5,"v":-6,"e":3},{"y":-23,"v":-2,"e":3},{"y":-24.5,"v":-2,"e":3},{"y":-26,"v":-2,"e":3},{"y":-27.5,"v":-3,"e":3},{"y":-29,"v":-3,"e":3},{"y":-30.5,"v":-3,"e":3},{"y":-32,"v":-5,"e":3},{"y":-33.5,"v":-7,"e":3},{"y":-35,"v":-6,"e":3},{"y":-36.5,"v":-6,"e":3},{"y":-38,"v":-5,"e":3},{"y":-39.5,"v":-5,"e":3},{"y":-41,"v":-4,"e":3},{"y":-42.5,"v":-4,"e":3},{"y":-44,"v":-3,"e":3},{"y":-45.5,"v":-3,"e":3},{"y":-47,"v":-3,"e":3},{"y":-48.5,"v":-3,"e":3},{"y":-50,"v":-3,"e":3},{"y":-51.5,"v":-3,"e":3},{"y":-53,"v":-2,"e":3},{"y":-54.5,"v":-2,"e":3},{"y":-56,"v":-2,"e":3},{"y":-57.5,"v":-1,"e":3},{"y":-59,"v":-1,"e":3},{"y":-60.5,"v":-1,"e":3},{"y":-62,"v":0,"e":3},{"y":-63.5,"v":0,"e":3},{"y":-65,"v":1,"e":3},{"y":-66.5,"v":1,"e":3},{"y":-68,"v":1,"e":3},{"y":-69.5,"v":2,"e":3},{"y":-71,"v":2,"e":3},{"y":-72.5,"v":3,"e":3},{"y":-74,"v":4,"e":3},{"y":-75.5,"v":8,"e":3},{"y":-77,"v":10,"e":3},{"y":-78.5,"v":8,"e":3},{"y":-80,"v":6,"e":3},{"y":-81.5,"v":3,"e":3},{"y":-83,"v":1,"e":3},{"y":-84.5,"v":5,"e":3},{"y":-86,"v":3,"e":3},{"y":-87.5,"v":4,"e":3},{"y":-89,"v":1,"e":3}]
},
"vconcat": [
{"hconcat": [
{"width":145,"height":648,"title":"2022−02−01","resolve":{"axis":{"x":"independent","y":"independent"}},"layer":[
{"data":{"name":"a"},"mark":{"type":"errorbar","color":"#000","thickness":1.8},"encoding":{"y":{"field":"y","type":"quantitative","scale":{"domain":[-90,90],"nice":false,"zero":false},"axis":{"orient":"left","values":[-90,-75,-60,-45,-30,-15,0,15,30,45,60,75,90],"labelExpr":"datum.value % 30 === 0 ? datum.label : ''","labelFlush":true,"labelPadding":8,"title":"AACGM Latitude [°]","titleFontSize":16.5,"titleFontWeight":"normal","titlePadding":11,"grid":true,"gridDash":[3,3],"gridColor":"#333","gridOpacity":{"condition":{"test":"datum.value % 30 === 0 && abs(datum.value) < 90","value":1},"value":0}}},"x":{"field":"v","type":"quantitative","scale":{"domain":[-50,200],"nice":false,"zero":false},"axis":{"orient":"bottom","values":[0,100,200],"labels":false,"title":null,"grid":true,"gridDash":[6,4],"gridColor":"#222","gridOpacity":{"condition":{"test":"datum.value < 150","value":1},"value":0}}},"xError":{"field":"e"}}},
{"data":{"name":"a"},"mark":{"type":"point","shape":"circle","filled":false,"size":55,"strokeWidth":1.3,"opacity":1},"encoding":{"y":{"field":"y","type":"quantitative","axis":{"orient":"right","values":[-90,-75,-60,-45,-30,-15,0,15,30,45,60,75,90],"labels":false,"title":null}},"x":{"field":"v","type":"quantitative","axis":{"orient":"top","values":[0,100,200],"labels":false,"title":null}},"color":{"field":"v","type":"quantitative","scale":{"type":"linear","domain":[0,10,20,30,40,50,60,72,85,100,115,135],"range":["#000000","#101030","#232378","#3a2090","#5a1fa0","#7a1fa5","#a0209a","#c82c80","#e03a68","#f04e55","#f47848","#f8a860"],"clamp":true},"legend":null}}},
{"data":{"values":[{}]},"mark":{"type":"rect","color":"#000"},"encoding":{"x":{"datum":131,"type":"quantitative","axis":null},"x2":{"datum":200},"y":{"datum":90,"type":"quantitative","axis":null},"y2":{"datum":78.9}}},
{"data":{"values":[{}]},"mark":{"type":"text","text":"[a]","color":"#fff","font":"Liberation Sans","fontSize":12},"encoding":{"x":{"datum":165.5,"type":"quantitative","axis":null},"y":{"datum":84.45,"type":"quantitative","axis":null}}}
]},
{"width":145,"height":648,"title":{"text":"2022−02−02","dy":-3},"resolve":{"axis":{"x":"independent","y":"independent"}},"layer":[
{"data":{"name":"b"},"mark":{"type":"errorbar","color":"#000","thickness":1.8},"encoding":{"y":{"field":"y","type":"quantitative","scale":{"domain":[-90,90],"nice":false,"zero":false},"axis":{"orient":"left","values":[-90,-75,-60,-45,-30,-15,0,15,30,45,60,75,90],"labels":false,"title":null,"grid":true,"gridDash":[3,3],"gridColor":"#333","gridOpacity":{"condition":{"test":"datum.value % 30 === 0 && abs(datum.value) < 90","value":1},"value":0}}},"x":{"field":"v","type":"quantitative","scale":{"domain":[-50,200],"nice":false,"zero":false},"axis":{"orient":"bottom","values":[0,100,200],"labels":false,"title":null,"grid":true,"gridDash":[6,4],"gridColor":"#222","gridOpacity":{"condition":{"test":"datum.value < 150","value":1},"value":0}}},"xError":{"field":"e"}}},
{"data":{"name":"b"},"mark":{"type":"point","shape":"circle","filled":false,"size":55,"strokeWidth":1.3,"opacity":1},"encoding":{"y":{"field":"y","type":"quantitative","axis":{"orient":"right","values":[-90,-75,-60,-45,-30,-15,0,15,30,45,60,75,90],"labels":false,"title":null}},"x":{"field":"v","type":"quantitative","axis":{"orient":"top","values":[0,100,200],"labels":false,"title":null}},"color":{"field":"v","type":"quantitative","scale":{"type":"linear","domain":[0,10,20,30,40,50,60,72,85,100,115,135],"range":["#000000","#101030","#232378","#3a2090","#5a1fa0","#7a1fa5","#a0209a","#c82c80","#e03a68","#f04e55","#f47848","#f8a860"],"clamp":true},"legend":null}}},
{"data":{"values":[{}]},"mark":{"type":"rect","color":"#000"},"encoding":{"x":{"datum":131,"type":"quantitative","axis":null},"x2":{"datum":200},"y":{"datum":90,"type":"quantitative","axis":null},"y2":{"datum":78.9}}},
{"data":{"values":[{}]},"mark":{"type":"text","text":"[b]","color":"#fff","font":"Liberation Sans","fontSize":12},"encoding":{"x":{"datum":165.5,"type":"quantitative","axis":null},"y":{"datum":84.45,"type":"quantitative","axis":null}}}
]},
{"width":145,"height":648,"title":"2022−02−03","resolve":{"axis":{"x":"independent","y":"independent"}},"layer":[
{"data":{"name":"c"},"mark":{"type":"errorbar","color":"#000","thickness":1.8},"encoding":{"y":{"field":"y","type":"quantitative","scale":{"domain":[-90,90],"nice":false,"zero":false},"axis":{"orient":"left","values":[-90,-75,-60,-45,-30,-15,0,15,30,45,60,75,90],"labels":false,"title":null,"grid":true,"gridDash":[3,3],"gridColor":"#333","gridOpacity":{"condition":{"test":"datum.value % 30 === 0 && abs(datum.value) < 90","value":1},"value":0}}},"x":{"field":"v","type":"quantitative","scale":{"domain":[-50,200],"nice":false,"zero":false},"axis":{"orient":"bottom","values":[0,100,200],"labels":false,"title":null,"grid":true,"gridDash":[6,4],"gridColor":"#222","gridOpacity":{"condition":{"test":"datum.value < 150","value":1},"value":0}}},"xError":{"field":"e"}}},
{"data":{"name":"c"},"mark":{"type":"point","shape":"circle","filled":false,"size":55,"strokeWidth":1.3,"opacity":1},"encoding":{"y":{"field":"y","type":"quantitative","axis":{"orient":"right","values":[-90,-75,-60,-45,-30,-15,0,15,30,45,60,75,90],"labels":false,"title":null}},"x":{"field":"v","type":"quantitative","axis":{"orient":"top","values":[0,100,200],"labels":false,"title":null}},"color":{"field":"v","type":"quantitative","scale":{"type":"linear","domain":[0,10,20,30,40,50,60,72,85,100,115,135],"range":["#000000","#101030","#232378","#3a2090","#5a1fa0","#7a1fa5","#a0209a","#c82c80","#e03a68","#f04e55","#f47848","#f8a860"],"clamp":true},"legend":null}}},
{"data":{"values":[{}]},"mark":{"type":"rect","color":"#000"},"encoding":{"x":{"datum":131,"type":"quantitative","axis":null},"x2":{"datum":200},"y":{"datum":54.4,"type":"quantitative","axis":null},"y2":{"datum":43.6}}},
{"data":{"values":[{}]},"mark":{"type":"text","text":"[c]","color":"#fff","font":"Liberation Sans","fontSize":12},"encoding":{"x":{"datum":165.5,"type":"quantitative","axis":null},"y":{"datum":49,"type":"quantitative","axis":null}}}
]},
{"width":145,"height":648,"title":"2022−02−04","resolve":{"axis":{"x":"independent","y":"independent"}},"layer":[
{"data":{"name":"d"},"mark":{"type":"errorbar","color":"#000","thickness":1.8},"encoding":{"y":{"field":"y","type":"quantitative","scale":{"domain":[-90,90],"nice":false,"zero":false},"axis":{"orient":"left","values":[-90,-75,-60,-45,-30,-15,0,15,30,45,60,75,90],"labels":false,"title":null,"grid":true,"gridDash":[3,3],"gridColor":"#333","gridOpacity":{"condition":{"test":"datum.value % 30 === 0 && abs(datum.value) < 90","value":1},"value":0}}},"x":{"field":"v","type":"quantitative","scale":{"domain":[-50,200],"nice":false,"zero":false},"axis":{"orient":"bottom","values":[0,100,200],"labels":false,"title":null,"grid":true,"gridDash":[6,4],"gridColor":"#222","gridOpacity":{"condition":{"test":"datum.value < 150","value":1},"value":0}}},"xError":{"field":"e"}}},
{"data":{"name":"d"},"mark":{"type":"point","shape":"circle","filled":false,"size":55,"strokeWidth":1.3,"opacity":1},"encoding":{"y":{"field":"y","type":"quantitative","axis":{"orient":"right","values":[-90,-75,-60,-45,-30,-15,0,15,30,45,60,75,90],"labels":false,"title":null}},"x":{"field":"v","type":"quantitative","axis":{"orient":"top","values":[0,100,200],"labels":false,"title":null}},"color":{"field":"v","type":"quantitative","scale":{"type":"linear","domain":[0,10,20,30,40,50,60,72,85,100,115,135],"range":["#000000","#101030","#232378","#3a2090","#5a1fa0","#7a1fa5","#a0209a","#c82c80","#e03a68","#f04e55","#f47848","#f8a860"],"clamp":true},"legend":null}}},
{"data":{"values":[{}]},"mark":{"type":"rect","color":"#000"},"encoding":{"x":{"datum":131,"type":"quantitative","axis":null},"x2":{"datum":200},"y":{"datum":54.4,"type":"quantitative","axis":null},"y2":{"datum":43.6}}},
{"data":{"values":[{}]},"mark":{"type":"text","text":"[d]","color":"#fff","font":"Liberation Sans","fontSize":12},"encoding":{"x":{"datum":165.5,"type":"quantitative","axis":null},"y":{"datum":49,"type":"quantitative","axis":null}}}
]},
{"width":145,"height":648,"title":"2022−02−05","resolve":{"axis":{"x":"independent","y":"independent"}},"layer":[
{"data":{"name":"e"},"mark":{"type":"errorbar","color":"#000","thickness":1.8},"encoding":{"y":{"field":"y","type":"quantitative","scale":{"domain":[-90,90],"nice":false,"zero":false},"axis":{"orient":"left","values":[-90,-75,-60,-45,-30,-15,0,15,30,45,60,75,90],"labels":false,"title":null,"grid":true,"gridDash":[3,3],"gridColor":"#333","gridOpacity":{"condition":{"test":"datum.value % 30 === 0 && abs(datum.value) < 90","value":1},"value":0}}},"x":{"field":"v","type":"quantitative","scale":{"domain":[-50,200],"nice":false,"zero":false},"axis":{"orient":"bottom","values":[0,100,200],"labels":false,"title":null,"grid":true,"gridDash":[6,4],"gridColor":"#222","gridOpacity":{"condition":{"test":"datum.value < 150","value":1},"value":0}}},"xError":{"field":"e"}}},
{"data":{"name":"e"},"mark":{"type":"point","shape":"circle","filled":false,"size":55,"strokeWidth":1.3,"opacity":1},"encoding":{"y":{"field":"y","type":"quantitative","axis":{"orient":"right","values":[-90,-75,-60,-45,-30,-15,0,15,30,45,60,75,90],"labels":false,"title":null}},"x":{"field":"v","type":"quantitative","axis":{"orient":"top","values":[0,100,200],"labels":false,"title":null}},"color":{"field":"v","type":"quantitative","scale":{"type":"linear","domain":[0,10,20,30,40,50,60,72,85,100,115,135],"range":["#000000","#101030","#232378","#3a2090","#5a1fa0","#7a1fa5","#a0209a","#c82c80","#e03a68","#f04e55","#f47848","#f8a860"],"clamp":true},"legend":null}}},
{"data":{"values":[{}]},"mark":{"type":"rect","color":"#000"},"encoding":{"x":{"datum":131,"type":"quantitative","axis":null},"x2":{"datum":200},"y":{"datum":90,"type":"quantitative","axis":null},"y2":{"datum":78.9}}},
{"data":{"values":[{}]},"mark":{"type":"text","text":"[e]","color":"#fff","font":"Liberation Sans","fontSize":12},"encoding":{"x":{"datum":165.5,"type":"quantitative","axis":null},"y":{"datum":84.45,"type":"quantitative","axis":null}}},
{"data":{"values":[{}]},"mark":{"type":"rect","fill":"#fff","stroke":"#000","strokeWidth":5},"encoding":{"x":{"datum":-587,"type":"quantitative","axis":null},"x2":{"datum":108},"y":{"datum":10.2,"type":"quantitative","axis":null},"y2":{"datum":-10.1}}},
{"data":{"values":[{}]},"mark":{"type":"text","text":"GRACE-FO ~ 500km","font":"Liberation Sans","fontSize":39,"color":"#555"},"encoding":{"x":{"datum":-240,"type":"quantitative","axis":null},"y":{"datum":0,"type":"quantitative","axis":null}}}
]},
{"width":145,"height":648,"title":"2022−02−06","resolve":{"axis":{"x":"independent","y":"independent"}},"layer":[
{"data":{"name":"f"},"mark":{"type":"errorbar","color":"#000","thickness":1.8},"encoding":{"y":{"field":"y","type":"quantitative","scale":{"domain":[-90,90],"nice":false,"zero":false},"axis":{"orient":"left","values":[-90,-75,-60,-45,-30,-15,0,15,30,45,60,75,90],"labels":false,"title":null,"grid":true,"gridDash":[3,3],"gridColor":"#333","gridOpacity":{"condition":{"test":"datum.value % 30 === 0 && abs(datum.value) < 90","value":1},"value":0}}},"x":{"field":"v","type":"quantitative","scale":{"domain":[-50,200],"nice":false,"zero":false},"axis":{"orient":"bottom","values":[0,100,200],"labels":false,"title":null,"grid":true,"gridDash":[6,4],"gridColor":"#222","gridOpacity":{"condition":{"test":"datum.value < 150","value":1},"value":0}}},"xError":{"field":"e"}}},
{"data":{"name":"f"},"mark":{"type":"point","shape":"circle","filled":false,"size":55,"strokeWidth":1.3,"opacity":1},"encoding":{"y":{"field":"y","type":"quantitative","axis":{"orient":"right","values":[-90,-75,-60,-45,-30,-15,0,15,30,45,60,75,90],"labels":false,"title":null}},"x":{"field":"v","type":"quantitative","axis":{"orient":"top","values":[0,100,200],"labels":false,"title":null}},"color":{"field":"v","type":"quantitative","scale":{"type":"linear","domain":[0,10,20,30,40,50,60,72,85,100,115,135],"range":["#000000","#101030","#232378","#3a2090","#5a1fa0","#7a1fa5","#a0209a","#c82c80","#e03a68","#f04e55","#f47848","#f8a860"],"clamp":true},"legend":null}}},
{"data":{"values":[{}]},"mark":{"type":"rect","color":"#000"},"encoding":{"x":{"datum":131,"type":"quantitative","axis":null},"x2":{"datum":200},"y":{"datum":90,"type":"quantitative","axis":null},"y2":{"datum":78.9}}},
{"data":{"values":[{}]},"mark":{"type":"text","text":"[f]","color":"#fff","font":"Liberation Sans","fontSize":12},"encoding":{"x":{"datum":165.5,"type":"quantitative","axis":null},"y":{"datum":84.45,"type":"quantitative","axis":null}}}
]},
{"width":145,"height":648,"title":"2022−02−07","resolve":{"axis":{"x":"independent","y":"independent"}},"layer":[
{"data":{"name":"g"},"mark":{"type":"errorbar","color":"#000","thickness":1.8},"encoding":{"y":{"field":"y","type":"quantitative","scale":{"domain":[-90,90],"nice":false,"zero":false},"axis":{"orient":"left","values":[-90,-75,-60,-45,-30,-15,0,15,30,45,60,75,90],"labels":false,"title":null,"grid":true,"gridDash":[3,3],"gridColor":"#333","gridOpacity":{"condition":{"test":"datum.value % 30 === 0 && abs(datum.value) < 90","value":1},"value":0}}},"x":{"field":"v","type":"quantitative","scale":{"domain":[-50,200],"nice":false,"zero":false},"axis":{"orient":"bottom","values":[0,100,200],"labels":false,"title":null,"grid":true,"gridDash":[6,4],"gridColor":"#222","gridOpacity":{"condition":{"test":"datum.value < 150","value":1},"value":0}}},"xError":{"field":"e"}}},
{"data":{"name":"g"},"mark":{"type":"point","shape":"circle","filled":false,"size":55,"strokeWidth":1.3,"opacity":1},"encoding":{"y":{"field":"y","type":"quantitative","axis":{"orient":"right","values":[-90,-75,-60,-45,-30,-15,0,15,30,45,60,75,90],"labels":false,"title":null}},"x":{"field":"v","type":"quantitative","axis":{"orient":"top","values":[0,100,200],"labels":false,"title":null}},"color":{"field":"v","type":"quantitative","scale":{"type":"linear","domain":[0,10,20,30,40,50,60,72,85,100,115,135],"range":["#000000","#101030","#232378","#3a2090","#5a1fa0","#7a1fa5","#a0209a","#c82c80","#e03a68","#f04e55","#f47848","#f8a860"],"clamp":true},"legend":null}}},
{"data":{"values":[{}]},"mark":{"type":"rect","color":"#000"},"encoding":{"x":{"datum":131,"type":"quantitative","axis":null},"x2":{"datum":200},"y":{"datum":90,"type":"quantitative","axis":null},"y2":{"datum":78.9}}},
{"data":{"values":[{}]},"mark":{"type":"text","text":"[g]","color":"#fff","font":"Liberation Sans","fontSize":12},"encoding":{"x":{"datum":165.5,"type":"quantitative","axis":null},"y":{"datum":84.45,"type":"quantitative","axis":null}}}
]}
], "spacing": 35, "bounds": "flush"},
{"hconcat": [
{"width":145,"height":648,"resolve":{"axis":{"x":"independent","y":"independent"}},"layer":[
{"data":{"name":"h"},"mark":{"type":"errorbar","color":"#000","thickness":1.8},"encoding":{"y":{"field":"y","type":"quantitative","scale":{"domain":[-90,90],"nice":false,"zero":false},"axis":{"orient":"left","values":[-90,-75,-60,-45,-30,-15,0,15,30,45,60,75,90],"labelExpr":"datum.value % 30 === 0 ? datum.label : ''","labelFlush":true,"labelPadding":8,"title":"AACGM Latitude [°]","titleFontSize":16.5,"titleFontWeight":"normal","titlePadding":11,"grid":true,"gridDash":[3,3],"gridColor":"#333","gridOpacity":{"condition":{"test":"datum.value % 30 === 0 && abs(datum.value) < 90","value":1},"value":0}}},"x":{"field":"v","type":"quantitative","scale":{"domain":[-50,200],"nice":false,"zero":false},"axis":{"orient":"bottom","values":[0,100,200],"labels":true,"labelFlush":false,"labelPadding":14,"title":null,"grid":true,"gridDash":[6,4],"gridColor":"#222","gridOpacity":{"condition":{"test":"datum.value < 150","value":1},"value":0}}},"xError":{"field":"e"}}},
{"data":{"name":"h"},"mark":{"type":"point","shape":"circle","filled":false,"size":55,"strokeWidth":1.3,"opacity":1},"encoding":{"y":{"field":"y","type":"quantitative","axis":{"orient":"right","values":[-90,-75,-60,-45,-30,-15,0,15,30,45,60,75,90],"labels":false,"title":null}},"x":{"field":"v","type":"quantitative","axis":{"orient":"top","values":[0,100,200],"labels":false,"title":null}},"color":{"field":"v","type":"quantitative","scale":{"type":"linear","domain":[0,10,20,30,40,50,60,72,85,100,115,135],"range":["#000000","#101030","#232378","#3a2090","#5a1fa0","#7a1fa5","#a0209a","#c82c80","#e03a68","#f04e55","#f47848","#f8a860"],"clamp":true},"legend":null}}},
{"data":{"values":[{}]},"mark":{"type":"rect","color":"#000"},"encoding":{"x":{"datum":131,"type":"quantitative","axis":null},"x2":{"datum":200},"y":{"datum":90,"type":"quantitative","axis":null},"y2":{"datum":78.9}}},
{"data":{"values":[{}]},"mark":{"type":"text","text":"[h]","color":"#fff","font":"Liberation Sans","fontSize":12},"encoding":{"x":{"datum":165.5,"type":"quantitative","axis":null},"y":{"datum":84.45,"type":"quantitative","axis":null}}}
]},
{"width":145,"height":648,"resolve":{"axis":{"x":"independent","y":"independent"}},"layer":[
{"data":{"name":"i"},"mark":{"type":"errorbar","color":"#000","thickness":1.8},"encoding":{"y":{"field":"y","type":"quantitative","scale":{"domain":[-90,90],"nice":false,"zero":false},"axis":{"orient":"left","values":[-90,-75,-60,-45,-30,-15,0,15,30,45,60,75,90],"labels":false,"title":null,"grid":true,"gridDash":[3,3],"gridColor":"#333","gridOpacity":{"condition":{"test":"datum.value % 30 === 0 && abs(datum.value) < 90","value":1},"value":0}}},"x":{"field":"v","type":"quantitative","scale":{"domain":[-50,200],"nice":false,"zero":false},"axis":{"orient":"bottom","values":[0,100,200],"labels":true,"labelFlush":false,"labelPadding":14,"title":null,"grid":true,"gridDash":[6,4],"gridColor":"#222","gridOpacity":{"condition":{"test":"datum.value < 150","value":1},"value":0}}},"xError":{"field":"e"}}},
{"data":{"name":"i"},"mark":{"type":"point","shape":"circle","filled":false,"size":55,"strokeWidth":1.3,"opacity":1},"encoding":{"y":{"field":"y","type":"quantitative","axis":{"orient":"right","values":[-90,-75,-60,-45,-30,-15,0,15,30,45,60,75,90],"labels":false,"title":null}},"x":{"field":"v","type":"quantitative","axis":{"orient":"top","values":[0,100,200],"labels":false,"title":null}},"color":{"field":"v","type":"quantitative","scale":{"type":"linear","domain":[0,10,20,30,40,50,60,72,85,100,115,135],"range":["#000000","#101030","#232378","#3a2090","#5a1fa0","#7a1fa5","#a0209a","#c82c80","#e03a68","#f04e55","#f47848","#f8a860"],"clamp":true},"legend":null}}},
{"data":{"values":[{}]},"mark":{"type":"rect","color":"#000"},"encoding":{"x":{"datum":131,"type":"quantitative","axis":null},"x2":{"datum":200},"y":{"datum":90,"type":"quantitative","axis":null},"y2":{"datum":78.9}}},
{"data":{"values":[{}]},"mark":{"type":"text","text":"[i]","color":"#fff","font":"Liberation Sans","fontSize":12},"encoding":{"x":{"datum":165.5,"type":"quantitative","axis":null},"y":{"datum":84.45,"type":"quantitative","axis":null}}}
]},
{"width":145,"height":648,"resolve":{"axis":{"x":"independent","y":"independent"}},"layer":[
{"data":{"name":"j"},"mark":{"type":"errorbar","color":"#000","thickness":1.8},"encoding":{"y":{"field":"y","type":"quantitative","scale":{"domain":[-90,90],"nice":false,"zero":false},"axis":{"orient":"left","values":[-90,-75,-60,-45,-30,-15,0,15,30,45,60,75,90],"labels":false,"title":null,"grid":true,"gridDash":[3,3],"gridColor":"#333","gridOpacity":{"condition":{"test":"datum.value % 30 === 0 && abs(datum.value) < 90","value":1},"value":0}}},"x":{"field":"v","type":"quantitative","scale":{"domain":[-50,200],"nice":false,"zero":false},"axis":{"orient":"bottom","values":[0,100,200],"labels":true,"labelFlush":false,"labelPadding":14,"title":null,"grid":true,"gridDash":[6,4],"gridColor":"#222","gridOpacity":{"condition":{"test":"datum.value < 150","value":1},"value":0}}},"xError":{"field":"e"}}},
{"data":{"name":"j"},"mark":{"type":"point","shape":"circle","filled":false,"size":55,"strokeWidth":1.3,"opacity":1},"encoding":{"y":{"field":"y","type":"quantitative","axis":{"orient":"right","values":[-90,-75,-60,-45,-30,-15,0,15,30,45,60,75,90],"labels":false,"title":null}},"x":{"field":"v","type":"quantitative","axis":{"orient":"top","values":[0,100,200],"labels":false,"title":null}},"color":{"field":"v","type":"quantitative","scale":{"type":"linear","domain":[0,10,20,30,40,50,60,72,85,100,115,135],"range":["#000000","#101030","#232378","#3a2090","#5a1fa0","#7a1fa5","#a0209a","#c82c80","#e03a68","#f04e55","#f47848","#f8a860"],"clamp":true},"legend":null}}},
{"data":{"values":[{}]},"mark":{"type":"rect","color":"#000"},"encoding":{"x":{"datum":131,"type":"quantitative","axis":null},"x2":{"datum":200},"y":{"datum":90,"type":"quantitative","axis":null},"y2":{"datum":78.9}}},
{"data":{"values":[{}]},"mark":{"type":"text","text":"[j]","color":"#fff","font":"Liberation Sans","fontSize":12},"encoding":{"x":{"datum":165.5,"type":"quantitative","axis":null},"y":{"datum":84.45,"type":"quantitative","axis":null}}}
]},
{"width":145,"height":648,"resolve":{"axis":{"x":"independent","y":"independent"}},"layer":[
{"data":{"name":"k"},"mark":{"type":"errorbar","color":"#000","thickness":1.8},"encoding":{"y":{"field":"y","type":"quantitative","scale":{"domain":[-90,90],"nice":false,"zero":false},"axis":{"orient":"left","values":[-90,-75,-60,-45,-30,-15,0,15,30,45,60,75,90],"labels":false,"title":null,"grid":true,"gridDash":[3,3],"gridColor":"#333","gridOpacity":{"condition":{"test":"datum.value % 30 === 0 && abs(datum.value) < 90","value":1},"value":0}}},"x":{"field":"v","type":"quantitative","scale":{"domain":[-50,200],"nice":false,"zero":false},"axis":{"orient":"bottom","values":[0,100,200],"labels":true,"labelFlush":false,"labelPadding":14,"title":"Mean Perturbation Density [%]","titleFontSize":14,"titleFontWeight":"bold","titleX":56,"titlePadding":38,"grid":true,"gridDash":[6,4],"gridColor":"#222","gridOpacity":{"condition":{"test":"datum.value < 150","value":1},"value":0}}},"xError":{"field":"e"}}},
{"data":{"name":"k"},"mark":{"type":"point","shape":"circle","filled":false,"size":55,"strokeWidth":1.3,"opacity":1},"encoding":{"y":{"field":"y","type":"quantitative","axis":{"orient":"right","values":[-90,-75,-60,-45,-30,-15,0,15,30,45,60,75,90],"labels":false,"title":null}},"x":{"field":"v","type":"quantitative","axis":{"orient":"top","values":[0,100,200],"labels":false,"title":null}},"color":{"field":"v","type":"quantitative","scale":{"type":"linear","domain":[0,10,20,30,40,50,60,72,85,100,115,135],"range":["#000000","#101030","#232378","#3a2090","#5a1fa0","#7a1fa5","#a0209a","#c82c80","#e03a68","#f04e55","#f47848","#f8a860"],"clamp":true},"legend":null}}},
{"data":{"values":[{}]},"mark":{"type":"rect","color":"#000"},"encoding":{"x":{"datum":131,"type":"quantitative","axis":null},"x2":{"datum":200},"y":{"datum":81.4,"type":"quantitative","axis":null},"y2":{"datum":70.3}}},
{"data":{"values":[{}]},"mark":{"type":"text","text":"[k]","color":"#fff","font":"Liberation Sans","fontSize":12},"encoding":{"x":{"datum":165.5,"type":"quantitative","axis":null},"y":{"datum":75.85,"type":"quantitative","axis":null}}}
]},
{"width":145,"height":648,"resolve":{"axis":{"x":"independent","y":"independent"}},"layer":[
{"data":{"name":"l"},"mark":{"type":"errorbar","color":"#000","thickness":1.8},"encoding":{"y":{"field":"y","type":"quantitative","scale":{"domain":[-90,90],"nice":false,"zero":false},"axis":{"orient":"left","values":[-90,-75,-60,-45,-30,-15,0,15,30,45,60,75,90],"labels":false,"title":null,"grid":true,"gridDash":[3,3],"gridColor":"#333","gridOpacity":{"condition":{"test":"datum.value % 30 === 0 && abs(datum.value) < 90","value":1},"value":0}}},"x":{"field":"v","type":"quantitative","scale":{"domain":[-50,200],"nice":false,"zero":false},"axis":{"orient":"bottom","values":[0,100,200],"labels":true,"labelFlush":false,"labelPadding":14,"title":null,"grid":true,"gridDash":[6,4],"gridColor":"#222","gridOpacity":{"condition":{"test":"datum.value < 150","value":1},"value":0}}},"xError":{"field":"e"}}},
{"data":{"name":"l"},"mark":{"type":"point","shape":"circle","filled":false,"size":55,"strokeWidth":1.3,"opacity":1},"encoding":{"y":{"field":"y","type":"quantitative","axis":{"orient":"right","values":[-90,-75,-60,-45,-30,-15,0,15,30,45,60,75,90],"labels":false,"title":null}},"x":{"field":"v","type":"quantitative","axis":{"orient":"top","values":[0,100,200],"labels":false,"title":null}},"color":{"field":"v","type":"quantitative","scale":{"type":"linear","domain":[0,10,20,30,40,50,60,72,85,100,115,135],"range":["#000000","#101030","#232378","#3a2090","#5a1fa0","#7a1fa5","#a0209a","#c82c80","#e03a68","#f04e55","#f47848","#f8a860"],"clamp":true},"legend":null}}},
{"data":{"values":[{}]},"mark":{"type":"rect","color":"#000"},"encoding":{"x":{"datum":131,"type":"quantitative","axis":null},"x2":{"datum":200},"y":{"datum":90,"type":"quantitative","axis":null},"y2":{"datum":78.9}}},
{"data":{"values":[{}]},"mark":{"type":"text","text":"[l]","color":"#fff","font":"Liberation Sans","fontSize":12},"encoding":{"x":{"datum":165.5,"type":"quantitative","axis":null},"y":{"datum":84.45,"type":"quantitative","axis":null}}},
{"data":{"values":[{}]},"mark":{"type":"rect","fill":"#fff","stroke":"#000","strokeWidth":5},"encoding":{"x":{"datum":-558,"type":"quantitative","axis":null},"x2":{"datum":77},"y":{"datum":9,"type":"quantitative","axis":null},"y2":{"datum":-10.4}}},
{"data":{"values":[{}]},"mark":{"type":"text","text":"Swarm-C ~ 460km","font":"Liberation Sans","fontSize":40,"color":"#555"},"encoding":{"x":{"datum":-241,"type":"quantitative","axis":null},"y":{"datum":-0.7,"type":"quantitative","axis":null}}}
]},
{"width":145,"height":648,"resolve":{"axis":{"x":"independent","y":"independent"}},"layer":[
{"data":{"name":"m"},"mark":{"type":"errorbar","color":"#000","thickness":1.8},"encoding":{"y":{"field":"y","type":"quantitative","scale":{"domain":[-90,90],"nice":false,"zero":false},"axis":{"orient":"left","values":[-90,-75,-60,-45,-30,-15,0,15,30,45,60,75,90],"labels":false,"title":null,"grid":true,"gridDash":[3,3],"gridColor":"#333","gridOpacity":{"condition":{"test":"datum.value % 30 === 0 && abs(datum.value) < 90","value":1},"value":0}}},"x":{"field":"v","type":"quantitative","scale":{"domain":[-50,200],"nice":false,"zero":false},"axis":{"orient":"bottom","values":[0,100,200],"labels":true,"labelFlush":false,"labelPadding":14,"title":null,"grid":true,"gridDash":[6,4],"gridColor":"#222","gridOpacity":{"condition":{"test":"datum.value < 150","value":1},"value":0}}},"xError":{"field":"e"}}},
{"data":{"name":"m"},"mark":{"type":"point","shape":"circle","filled":false,"size":55,"strokeWidth":1.3,"opacity":1},"encoding":{"y":{"field":"y","type":"quantitative","axis":{"orient":"right","values":[-90,-75,-60,-45,-30,-15,0,15,30,45,60,75,90],"labels":false,"title":null}},"x":{"field":"v","type":"quantitative","axis":{"orient":"top","values":[0,100,200],"labels":false,"title":null}},"color":{"field":"v","type":"quantitative","scale":{"type":"linear","domain":[0,10,20,30,40,50,60,72,85,100,115,135],"range":["#000000","#101030","#232378","#3a2090","#5a1fa0","#7a1fa5","#a0209a","#c82c80","#e03a68","#f04e55","#f47848","#f8a860"],"clamp":true},"legend":null}}},
{"data":{"values":[{}]},"mark":{"type":"rect","color":"#000"},"encoding":{"x":{"datum":131,"type":"quantitative","axis":null},"x2":{"datum":200},"y":{"datum":90,"type":"quantitative","axis":null},"y2":{"datum":78.9}}},
{"data":{"values":[{}]},"mark":{"type":"text","text":"[m]","color":"#fff","font":"Liberation Sans","fontSize":12},"encoding":{"x":{"datum":165.5,"type":"quantitative","axis":null},"y":{"datum":84.45,"type":"quantitative","axis":null}}}
]},
{"width":145,"height":648,"resolve":{"axis":{"x":"independent","y":"independent"}},"layer":[
{"data":{"name":"n"},"mark":{"type":"errorbar","color":"#000","thickness":1.8},"encoding":{"y":{"field":"y","type":"quantitative","scale":{"domain":[-90,90],"nice":false,"zero":false},"axis":{"orient":"left","values":[-90,-75,-60,-45,-30,-15,0,15,30,45,60,75,90],"labels":false,"title":null,"grid":true,"gridDash":[3,3],"gridColor":"#333","gridOpacity":{"condition":{"test":"datum.value % 30 === 0 && abs(datum.value) < 90","value":1},"value":0}}},"x":{"field":"v","type":"quantitative","scale":{"domain":[-50,200],"nice":false,"zero":false},"axis":{"orient":"bottom","values":[0,100,200],"labels":true,"labelFlush":false,"labelPadding":14,"title":null,"grid":true,"gridDash":[6,4],"gridColor":"#222","gridOpacity":{"condition":{"test":"datum.value < 150","value":1},"value":0}}},"xError":{"field":"e"}}},
{"data":{"name":"n"},"mark":{"type":"point","shape":"circle","filled":false,"size":55,"strokeWidth":1.3,"opacity":1},"encoding":{"y":{"field":"y","type":"quantitative","axis":{"orient":"right","values":[-90,-75,-60,-45,-30,-15,0,15,30,45,60,75,90],"labels":false,"title":null}},"x":{"field":"v","type":"quantitative","axis":{"orient":"top","values":[0,100,200],"labels":false,"title":null}},"color":{"field":"v","type":"quantitative","scale":{"type":"linear","domain":[0,10,20,30,40,50,60,72,85,100,115,135],"range":["#000000","#101030","#232378","#3a2090","#5a1fa0","#7a1fa5","#a0209a","#c82c80","#e03a68","#f04e55","#f47848","#f8a860"],"clamp":true},"legend":null}}},
{"data":{"values":[{}]},"mark":{"type":"rect","color":"#000"},"encoding":{"x":{"datum":131,"type":"quantitative","axis":null},"x2":{"datum":200},"y":{"datum":90,"type":"quantitative","axis":null},"y2":{"datum":78.9}}},
{"data":{"values":[{}]},"mark":{"type":"text","text":"[n]","color":"#fff","font":"Liberation Sans","fontSize":12},"encoding":{"x":{"datum":165.5,"type":"quantitative","axis":null},"y":{"datum":84.45,"type":"quantitative","axis":null}}}
]}
], "spacing": 35, "bounds": "flush"}
], "spacing": 23
}
